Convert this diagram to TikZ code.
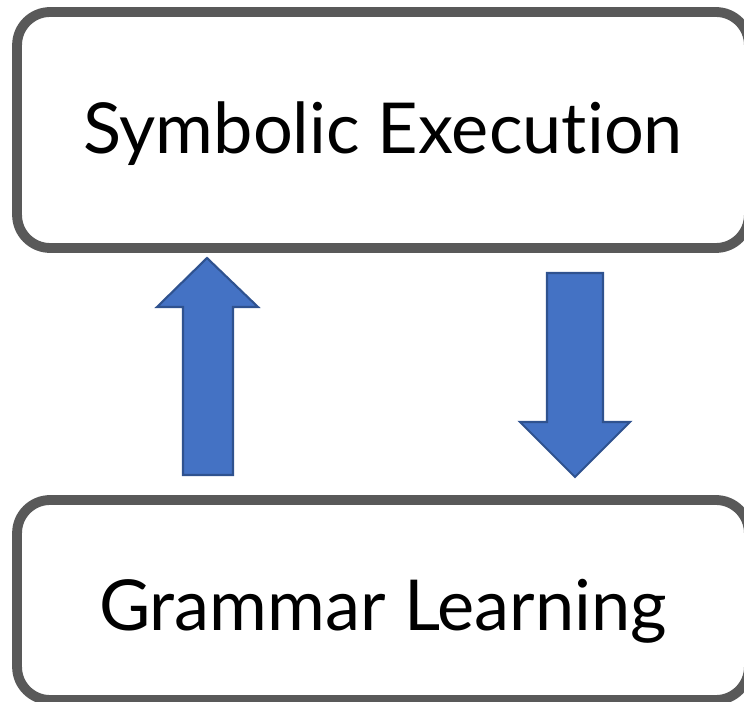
\documentclass[tikz,border=0pt]{standalone}
\usepackage{fontspec}
\setmainfont{Lato}[Ligatures=NoCommon]
\usepackage{xcolor}
\usetikzlibrary{calc}
\definecolor{boxgray}{HTML}{595959}
\definecolor{arrowfill}{HTML}{4472C4}
\definecolor{arrowline}{HTML}{2F528F}

\begin{document}
\begin{tikzpicture}[x=0.02cm, y=-0.02cm,
  stagebox/.style={draw=boxgray, line width=5.6pt, rounded corners=0.66cm, fill=white, minimum width=14.64cm, align=center, text depth=0pt, font=\fontsize{40}{48}\selectfont},
  blockarrow/.style={fill=arrowfill, draw=arrowline, line width=1.2pt, line join=miter}]
  \useasboundingbox (0,0) rectangle (744,702);
  \node[stagebox, minimum height=4.72cm, text height=0.94cm] (symexec) at (383,130) {Symbolic Execution};
  \node[stagebox, minimum height=4.0cm, text height=1.24cm] (grammar) at (383,600) {Grammar Learning};
  % up arrow (grammar -> symexec)
  \draw[blockarrow] (183,475) -- (183,307) -- (157,307) -- (207,258) -- (258,307) -- (233,307) -- (233,475) -- cycle;
  % down arrow (symexec -> grammar)
  \draw[blockarrow] (547,273) -- (603,273) -- (603,422) -- (630,422) -- (575,477) -- (520,422) -- (547,422) -- cycle;
\end{tikzpicture}
\end{document}
